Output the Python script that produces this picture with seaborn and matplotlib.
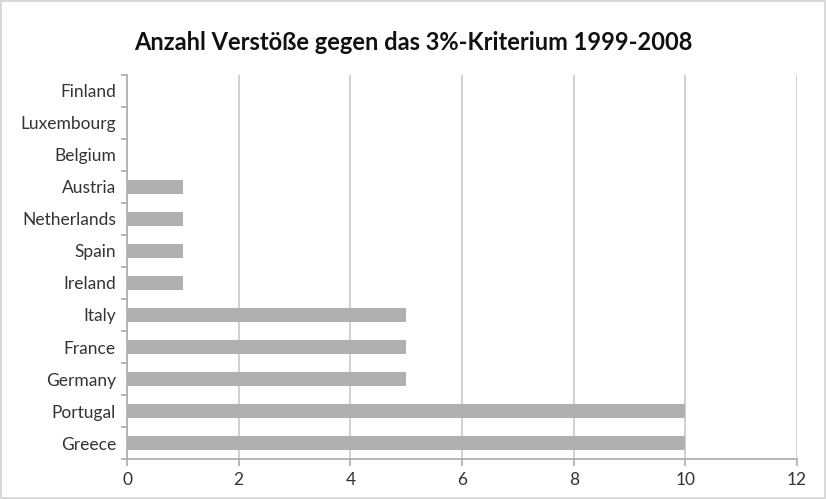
import numpy as np
import pandas as pd
import matplotlib
matplotlib.use("Agg")
import matplotlib.pyplot as plt
import matplotlib.transforms as mtransforms
import seaborn as sns

countries = ["Finland", "Luxembourg", "Belgium", "Austria", "Netherlands", "Spain",
             "Ireland", "Italy", "France", "Germany", "Portugal", "Greece"]
violations = [0, 0, 0, 1, 1, 1, 1, 5, 5, 5, 10, 10]
x_ticks = [0, 2, 4, 6, 8, 10, 12]

df = pd.DataFrame({"country": countries, "count": violations})

sns.set_style("white")
plt.rcParams["font.family"] = ["Lato", "DejaVu Sans"]

fig = plt.figure(figsize=(8.26, 4.99), dpi=100)
fig.patch.set_edgecolor("#d9d9d9")
fig.patch.set_linewidth(1.5)
ax = fig.add_axes([0.1538, 0.080, 0.8112, 0.770])

sns.barplot(data=df, x="count", y="country", orient="h", color="#b0b0b0",
            saturation=1, width=0.42, linewidth=0, ax=ax, zorder=3)

axis_grey = "#acacac"

ax.set_xlim(0, 12)
ax.set_ylim(len(countries) - 0.5, -0.5)
ax.set_xticks(x_ticks)
ax.set_xticklabels([str(t) for t in x_ticks], fontsize=12.5, color="#333333")
ax.tick_params(axis="x", bottom=True, length=5, width=1.2, color=axis_grey, pad=4)
ax.set_yticks(range(len(countries)))
ax.set_yticklabels(countries, fontsize=12.5, color="#333333")
ax.tick_params(axis="y", which="major", length=0, pad=8)
ax.set_xlabel("")
ax.set_ylabel("")

# category boundary tick marks on the left axis
trans = mtransforms.blended_transform_factory(ax.transAxes, ax.transData)
bounds = np.arange(-0.5, len(countries) + 0.5, 1)
ax.hlines(bounds, -0.0085, 0, transform=trans, colors=axis_grey, linewidth=1.2,
          clip_on=False)

ax.grid(axis="x", color="#c8c8c8", linewidth=1.2, zorder=0)
ax.set_axisbelow(True)
for side in ["top", "right"]:
    ax.spines[side].set_visible(False)
for side in ["left", "bottom"]:
    ax.spines[side].set_color(axis_grey)
    ax.spines[side].set_linewidth(1.2)

fig.text(0.5, 0.915, "Anzahl Verstöße gegen das 3%-Kriterium 1999-2008",
         ha="center", va="center", fontsize=17, fontweight="bold", color="#111111")

fig.savefig("out.png", dpi=100, edgecolor=fig.get_edgecolor())
